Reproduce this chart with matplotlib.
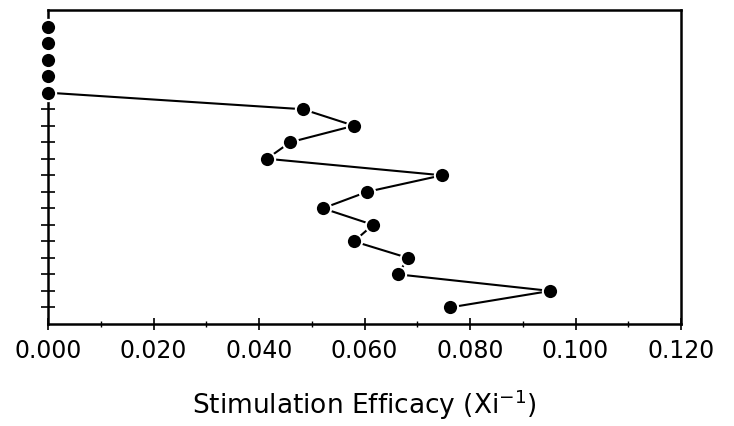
import numpy as np
import matplotlib.pyplot as plt
from matplotlib.ticker import MultipleLocator, FormatStrFormatter

# efficacy values read top to bottom
efficacy = [0.000, 0.000, 0.000, 0.000, 0.000,
            0.0483, 0.058, 0.0459, 0.0415, 0.0747,
            0.0605, 0.0521, 0.0616, 0.058, 0.0682,
            0.0664, 0.0952, 0.0762]
rank = list(range(1, len(efficacy) + 1))

fig = plt.figure(figsize=(7.34, 4.27), dpi=100)
ax = fig.add_axes([0.0654, 0.239, 0.8625, 0.735])

ax.plot(efficacy, rank, color='black', lw=1.5, marker='o', ms=11,
        mfc='black', mec='white', mew=1.5, clip_on=False, zorder=3)

ax.set_xlim(0, 0.12)
ax.set_ylim(19, 0)
ax.xaxis.set_major_locator(MultipleLocator(0.02))
ax.xaxis.set_minor_locator(MultipleLocator(0.01))
ax.xaxis.set_major_formatter(FormatStrFormatter('%.3f'))
ax.set_yticks(range(1, 19))
ax.set_yticklabels([])

ax.tick_params(axis='x', which='major', direction='inout', length=8, width=1.2,
               labelsize=17, pad=6)
ax.tick_params(axis='x', which='minor', direction='inout', length=4, width=1)
ax.tick_params(axis='y', which='major', direction='inout', length=10, width=1.2)

for s in ax.spines.values():
    s.set_linewidth(1.8)

ax.set_xlabel('Stimulation Efficacy (Xi$^{-1}$)', fontsize=19, labelpad=18)

plt.savefig('out.png', dpi=100)
plt.close()
